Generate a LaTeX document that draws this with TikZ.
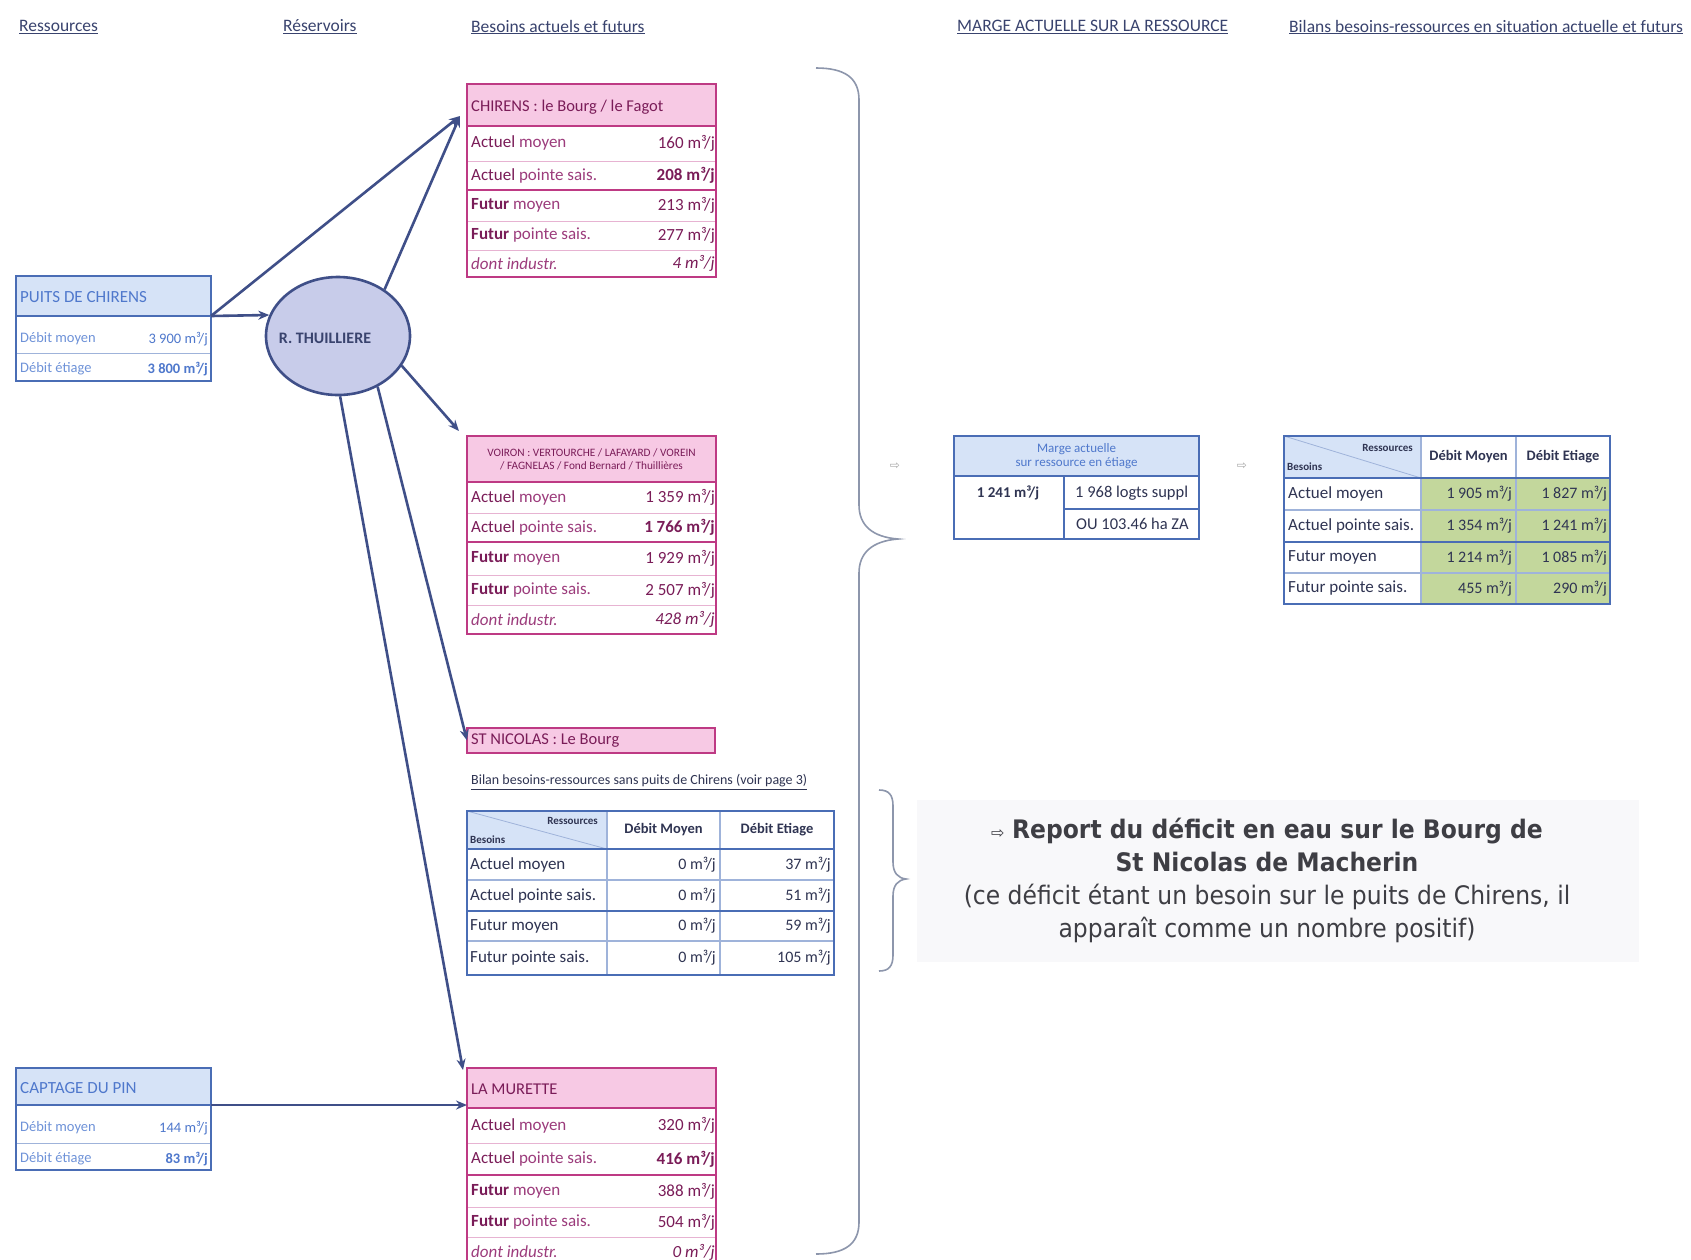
\documentclass[tikz,border=0pt]{standalone}
\usepackage{fontspec}
\setmainfont{Carlito}
\newfontfamily\tahoma[FakeStretch=0.92]{DejaVu Sans}
\newfontfamily\symfont{DejaVu Sans}
\usetikzlibrary{arrows.meta,calc,shapes.geometric}

\definecolor{bbord}{HTML}{4A6DB5}
\definecolor{bhead}{HTML}{D6E3F7}
\definecolor{btext}{HTML}{4F78CC}
\definecolor{btextl}{HTML}{6E92D8}
\definecolor{pbord}{HTML}{BE3A84}
\definecolor{phead}{HTML}{F7C9E4}
\definecolor{ptext}{HTML}{9C3C7C}
\definecolor{ptextd}{HTML}{7A1C58}
\definecolor{pline}{HTML}{E7B3D2}
\definecolor{arrc}{HTML}{3F4F88}
\definecolor{ellf}{HTML}{C8CCEA}
\definecolor{grn}{HTML}{C3D79C}
\definecolor{hdr}{HTML}{39436E}
\definecolor{ttxt}{HTML}{2F3452}
\definecolor{tline}{HTML}{9FB3DA}
\definecolor{brc}{HTML}{8D96AC}
\definecolor{rep}{HTML}{3E3E44}
\definecolor{bgrey}{HTML}{F8F8FA}

\newcommand\mcj{~m³/j}
\newcommand\fsz[1]{\fontsize{#1}{#1}\selectfont}

\tikzset{
  rect/.style={rectangle, inner sep=0pt, outer sep=0pt, anchor=north west},
  pinkbox/.style={rect, draw=pbord, line width=2pt},
  pinkhead/.style={rect, draw=pbord, fill=phead, line width=2pt},
  bluebox/.style={rect, draw=bbord, line width=2pt},
  bluehead/.style={rect, draw=bbord, fill=bhead, line width=2pt},
  plbl/.style={anchor=west, inner sep=0pt, text=ptext, font=\fsz{17}},
  pval/.style={anchor=east, inner sep=0pt, text=ptextd, font=\fsz{17}},
  blbl/.style={anchor=west, inner sep=0pt, text=btextl, font=\fsz{14.5}},
  bval/.style={anchor=east, inner sep=0pt, text=btext, font=\fsz{14.5}},
  tlbl/.style={anchor=west, inner sep=0pt, text=ttxt, font=\fsz{17}},
  tval/.style={anchor=east, inner sep=0pt, text=ttxt, font=\fsz{16}},
  thead/.style={inner sep=0pt, text=ttxt, font=\bfseries\fsz{14.5}},
  tcorner/.style={inner sep=0pt, text=ttxt, font=\bfseries\fsz{11}},
  title/.style={anchor=west, inner sep=0pt, text=hdr, font=\fsz{17.5}},
  thin/.style={draw=pline, line width=1pt},
  thick/.style={draw=pbord, line width=2pt},
  gridl/.style={draw=tline, line width=1.2pt},
  gridb/.style={draw=bbord, line width=2pt},
  arr/.style={draw=arrc, line width=2.6pt, -{Stealth[length=11pt,width=9pt]}},
  brace/.style={draw=brc, line width=1.6pt},
}

\begin{document}
\begin{tikzpicture}[x=1pt,y=-1pt]
\useasboundingbox (0,0) rectangle (1691,1259);
\fill[white] (0,0) rectangle (1691,1259);

% column titles
\node[title] (t1) at (19,27) {\underline{Ressources}};
\node[title] (t2) at (283,27) {\underline{Réservoirs}};
\node[title] (t3) at (471,27) {\underline{Besoins actuels et futurs}};
\node[title] (t4) at (957,27) {\underline{MARGE ACTUELLE SUR LA RESSOURCE}};
\node[title] (t5) at (1289,27) {\underline{Bilans besoins-ressources en situation actuelle et futurs}};

% ---------- resources ----------
\node[bluehead, minimum width=195, minimum height=40] (puitsH) at (16,276) {};
\draw[draw=tline, line width=0.8pt] (16,353) -- (211,353);
\node[bluebox, minimum width=195, minimum height=105] (puits) at (16,276) {};
\node[anchor=west, inner sep=0pt, text=btext, font=\fsz{17}] (puitsT) at (20,297) {PUITS DE CHIRENS};
\node[blbl] (p1l) at (20,339) {Débit moyen};
\node[bval] (p1v) at (208,339) {3 900\mcj};
\node[blbl] (p2l) at (20,369) {Débit étiage};
\node[bval] (p2v) at (208,369) {\bfseries 3 800\mcj};

\node[bluehead, minimum width=195, minimum height=37] (captH) at (16,1068) {};
\draw[draw=tline, line width=0.8pt] (16,1143) -- (211,1143);
\node[bluebox, minimum width=195, minimum height=102] (capt) at (16,1068) {};
\node[anchor=west, inner sep=0pt, text=btext, font=\fsz{17}] (captT) at (20,1088) {CAPTAGE DU PIN};
\node[blbl] (k1l) at (20,1128) {Débit moyen};
\node[bval] (k1v) at (208,1128) {144\mcj};
\node[blbl] (k2l) at (20,1159) {Débit étiage};
\node[bval] (k2v) at (208,1159) {\bfseries 83\mcj};

% ---------- reservoir ----------
\node[ellipse, draw=arrc, line width=2.6pt, fill=ellf, minimum width=144pt, minimum height=118pt, inner sep=0pt] (thuil) at (338,336) {};
\node[inner sep=0pt, text=hdr, font=\bfseries\fsz{16}] (thuilT) at (325,338) {R. THUILLIERE};

% ---------- CHIRENS ----------
\node[pinkhead, minimum width=249, minimum height=42] (chirH) at (467,84) {};
\draw[thin] (467,161) -- (716,161);
\draw[thin] (467,221) -- (716,221);
\draw[thin] (467,250) -- (716,250);
\draw[thick] (467,190) -- (716,190);
\node[pinkbox, minimum width=249, minimum height=193] (chir) at (467,84) {};
\node[plbl, text=ptextd, font=\fsz{16.5}] (chirT) at (471,107) {CHIRENS : le Bourg / le Fagot};
\node[plbl] (c1l) at (471,143) {{\color{ptextd}Actuel} moyen};
\node[pval] (c1v) at (715,143) {160\mcj};
\node[plbl] (c2l) at (471,175.5) {{\color{ptextd}Actuel} pointe sais.};
\node[pval] (c2v) at (715,175.5) {\bfseries 208\mcj};
\node[plbl] (c3l) at (471,205.5) {{\color{ptextd}\bfseries Futur} moyen};
\node[pval] (c3v) at (715,205.5) {213\mcj};
\node[plbl] (c4l) at (471,235.5) {{\color{ptextd}\bfseries Futur} pointe sais.};
\node[pval] (c4v) at (715,235.5) {277\mcj};
\node[plbl] (c5l) at (471,263.5) {\itshape dont industr.};
\node[pval] (c5v) at (715,263.5) {\itshape 4\mcj};

% ---------- VOIRON ----------
\node[pinkhead, minimum width=249, minimum height=46] (voirH) at (467,436) {};
\draw[thin] (467,513) -- (716,513);
\draw[thin] (467,575) -- (716,575);
\draw[thin] (467,605) -- (716,605);
\draw[thick] (467,542) -- (716,542);
\node[pinkbox, minimum width=249, minimum height=198] (voir) at (467,436) {};
\node[inner sep=0pt, text=ptextd, font=\fsz{11.3}, align=center] (voirT) at (591.5,459)
  {VOIRON : VERTOURCHE / LAFAYARD / VOREIN\\[2pt]/ FAGNELAS / Fond Bernard / Thuillières};
\node[plbl] (v1l) at (471,497.5) {{\color{ptextd}Actuel} moyen};
\node[pval] (v1v) at (715,497.5) {1 359\mcj};
\node[plbl] (v2l) at (471,527.5) {{\color{ptextd}Actuel} pointe sais.};
\node[pval] (v2v) at (715,527.5) {\bfseries 1 766\mcj};
\node[plbl] (v3l) at (471,558.5) {{\color{ptextd}\bfseries Futur} moyen};
\node[pval] (v3v) at (715,558.5) {1 929\mcj};
\node[plbl] (v4l) at (471,590) {{\color{ptextd}\bfseries Futur} pointe sais.};
\node[pval] (v4v) at (715,590) {2 507\mcj};
\node[plbl] (v5l) at (471,619.5) {\itshape dont industr.};
\node[pval] (v5v) at (715,619.5) {\itshape 428\mcj};

% ---------- ST NICOLAS ----------
\node[pinkhead, minimum width=248, minimum height=25] (stnic) at (467,728) {};
\node[plbl, text=ptextd, font=\fsz{16.5}] (stnicT) at (471,741) {ST NICOLAS : Le Bourg};
\node[anchor=west, inner sep=0pt, text=ttxt, font=\fsz{14}] (stsub) at (471,782)
  {\underline{Bilan besoins-ressources sans puits de Chirens (voir page 3)}};

% table without Chirens well
\fill[bhead] (467,811) rectangle (607,849);
\draw[draw=tline, line width=0.8pt] (467,811) -- (607,849);
\draw[gridl] (607,811) -- (607,975);
\draw[gridl] (720,811) -- (720,975);
\draw[gridl] (467,880) -- (834,880);
\draw[gridl] (467,941) -- (834,941);
\draw[gridb] (467,849) -- (834,849);
\draw[gridb] (467,911) -- (834,911);
\node[rect, draw=bbord, line width=2pt, minimum width=367, minimum height=164] (sntab) at (467,811) {};
\node[tcorner, anchor=east] (snR) at (598,821) {Ressources};
\node[tcorner, anchor=west] (snB) at (470,840) {Besoins};
\node[thead] (snH1) at (663.5,830) {Débit Moyen};
\node[thead] (snH2) at (777,830) {Débit Etiage};
\node[tlbl] (s1l) at (470,864.5) {Actuel moyen};
\node[tval] (s1a) at (716,864.5) {0\mcj};
\node[tval] (s1b) at (831,864.5) {37\mcj};
\node[tlbl] (s2l) at (470,895.5) {Actuel pointe sais.};
\node[tval] (s2a) at (716,895.5) {0\mcj};
\node[tval] (s2b) at (831,895.5) {51\mcj};
\node[tlbl] (s3l) at (470,926) {Futur moyen};
\node[tval] (s3a) at (716,926) {0\mcj};
\node[tval] (s3b) at (831,926) {59\mcj};
\node[tlbl] (s4l) at (470,958) {Futur pointe sais.};
\node[tval] (s4a) at (716,958) {0\mcj};
\node[tval] (s4b) at (831,958) {105\mcj};

% ---------- LA MURETTE ----------
\node[pinkhead, minimum width=249, minimum height=40] (murH) at (467,1068) {};
\draw[thin] (467,1143) -- (716,1143);
\draw[thin] (467,1207) -- (716,1207);
\draw[thin] (467,1237) -- (716,1237);
\draw[thick] (467,1175) -- (716,1175);
\node[pinkbox, minimum width=249, minimum height=200] (mur) at (467,1068) {};
\node[plbl, text=ptextd, font=\fsz{16.5}] (murT) at (471,1089) {LA MURETTE};
\node[plbl] (m1l) at (471,1125.5) {{\color{ptextd}Actuel} moyen};
\node[pval] (m1v) at (715,1125.5) {320\mcj};
\node[plbl] (m2l) at (471,1159) {{\color{ptextd}Actuel} pointe sais.};
\node[pval] (m2v) at (715,1159) {\bfseries 416\mcj};
\node[plbl] (m3l) at (471,1191) {{\color{ptextd}\bfseries Futur} moyen};
\node[pval] (m3v) at (715,1191) {388\mcj};
\node[plbl] (m4l) at (471,1222) {{\color{ptextd}\bfseries Futur} pointe sais.};
\node[pval] (m4v) at (715,1222) {504\mcj};
\node[plbl] (m5l) at (471,1252) {\itshape dont industr.};
\node[pval] (m5v) at (715,1252) {\itshape 0\mcj};

% ---------- connectors ----------
\coordinate (chirIn) at ($(chirH.south west)+(-7,-10)$);
\draw[arr] (puitsH.south east) -- (thuil.163);
\draw[arr] (puitsH.south east) -- (chirIn);
\draw[arr] (thuil.45) -- (chirIn);
\draw[arr] (thuil.-25) -- ($(voirH.north west)+(-8,-5)$);
\draw[arr] (thuil.-52) -- (stnic.west);
\draw[arr] (thuil.-88) -- ($(murH.north west)+(-4,2)$);
\draw[arr] (captH.south east) -- (captH.south east -| murH.west);

% ---------- braces ----------
\draw[brace] (816,68) .. controls (845,68) and (859,78) .. (859,100) -- (859,505)
  .. controls (859,525) and (872,537) .. (898,539)
  .. controls (872,541) and (859,553) .. (859,573) -- (859,1222)
  .. controls (859,1244) and (845,1254) .. (816,1254);
\draw[brace] (879,790) .. controls (889,790) and (893,795) .. (893,806) -- (893,862)
  .. controls (893,873) and (898,878) .. (906,879)
  .. controls (898,880) and (893,885) .. (893,896) -- (893,955)
  .. controls (893,966) and (889,971) .. (879,971);

\node[inner sep=0pt, text=gray!70, font=\symfont\fsz{12}] (eq1) at (895,466) {⇨};
\node[inner sep=0pt, text=gray!70, font=\symfont\fsz{12}] (eq2) at (1242,466) {⇨};

% ---------- current margin ----------
\node[bluehead, minimum width=245, minimum height=40] (margH) at (954,436) {};
\draw[gridb] (1064,476) -- (1064,539);
\draw[gridb] (1064,509) -- (1199,509);
\node[bluebox, minimum width=245, minimum height=103] (marg) at (954,436) {};
\node[inner sep=0pt, text=btext, font=\fsz{13}, align=center] (margT) at (1076.5,456)
  {Marge actuelle\\[1pt]sur ressource en étiage};
\node[inner sep=0pt, text=ttxt, font=\bfseries\fsz{15}] (margV) at (1008,493) {1 241\mcj};
\begin{scope}
\clip (1065,477) rectangle (1198,538);
\node[anchor=west, inner sep=0pt, text=ttxt, font=\fsz{16.5}] (margA) at (1075,493) {1 968 logts suppl};
\node[anchor=west, inner sep=0pt, text=ttxt, font=\fsz{16.5}] (margB) at (1076,524) {OU 103.46 ha ZA};
\end{scope}

% ---------- needs / resources table ----------
\fill[bhead] (1284,436) rectangle (1421,478);
\fill[grn] (1421,478) rectangle (1610,604);
\draw[draw=tline, line width=0.8pt] (1284,436) -- (1421,478);
\draw[gridl] (1421,436) -- (1421,604);
\draw[gridl] (1516,436) -- (1516,604);
\draw[gridl] (1284,510) -- (1610,510);
\draw[gridl] (1284,573) -- (1610,573);
\draw[gridb] (1284,478) -- (1610,478);
\draw[gridb] (1284,542) -- (1610,542);
\node[rect, draw=bbord, line width=2pt, minimum width=326, minimum height=168] (bil) at (1284,436) {};
\node[tcorner, anchor=east] (bR) at (1413,448) {Ressources};
\node[tcorner, anchor=west] (bB) at (1287,467) {Besoins};
\node[thead] (bH1) at (1468.5,457) {Débit Moyen};
\node[thead] (bH2) at (1563,457) {Débit Etiage};
\node[tlbl] (b1l) at (1288,494) {Actuel moyen};
\node[tval] (b1a) at (1512,494) {1 905\mcj};
\node[tval] (b1b) at (1607,494) {1 827\mcj};
\node[tlbl] (b2l) at (1288,526) {Actuel pointe sais.};
\node[tval] (b2a) at (1512,526) {1 354\mcj};
\node[tval] (b2b) at (1607,526) {1 241\mcj};
\node[tlbl] (b3l) at (1288,557.5) {Futur moyen};
\node[tval] (b3a) at (1512,557.5) {1 214\mcj};
\node[tval] (b3b) at (1607,557.5) {1 085\mcj};
\node[tlbl] (b4l) at (1288,588.5) {Futur pointe sais.};
\node[tval] (b4a) at (1512,588.5) {455\mcj};
\node[tval] (b4b) at (1607,588.5) {290\mcj};

% ---------- note on St Nicolas ----------
\fill[bgrey] (917,800) rectangle (1639,962);
\node[inner sep=0pt, text=rep, align=center, font=\tahoma\fontsize{25.5}{33}\selectfont] (note) at (1267,880)
  {{\symfont\fontsize{16}{33}\selectfont ⇨}\ \textbf{Report du déficit en eau sur le Bourg de}\\
   \textbf{St Nicolas de Macherin}\\
   (ce déficit étant un besoin sur le puits de Chirens, il\\
   apparaît comme un nombre positif)};
\end{tikzpicture}
\end{document}
